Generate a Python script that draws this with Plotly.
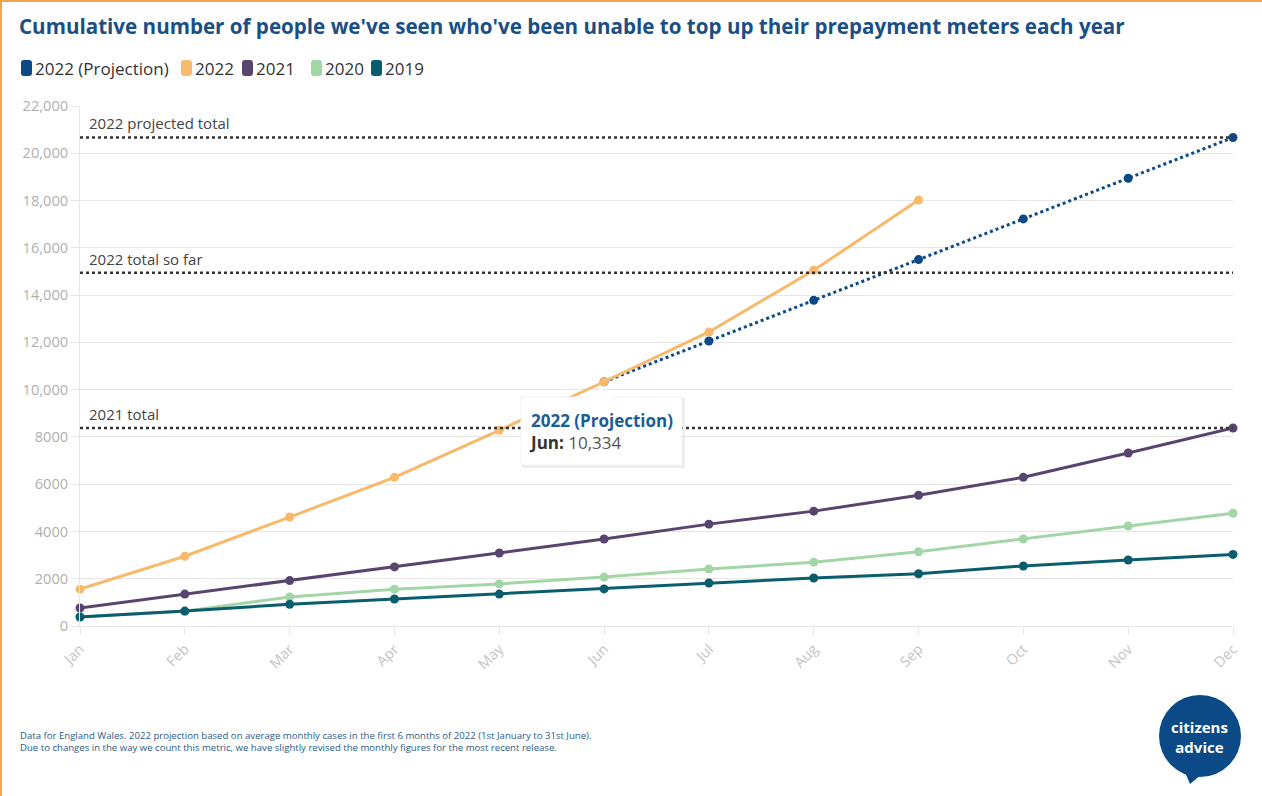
import plotly.graph_objects as go

# ---------------- data ----------------
months = ["Jan", "Feb", "Mar", "Apr", "May", "Jun", "Jul", "Aug", "Sep", "Oct", "Nov", "Dec"]
months_2022 = months[:9]
months_proj = months[5:]
y2022 = [1560, 2950, 4610, 6290, 8280, 10334, 12440, 15050, 18020]
proj2022 = [10334, 12056, 13778, 15501, 17223, 18945, 20668]
y2021 = [760, 1350, 1920, 2500, 3090, 3680, 4310, 4860, 5530, 6290, 7320, 8376]
y2020 = [390, 620, 1230, 1560, 1780, 2070, 2410, 2700, 3140, 3680, 4230, 4770]
y2019 = [380, 630, 920, 1140, 1350, 1570, 1820, 2030, 2210, 2540, 2790, 3030]
ref_values = [20668, 14950, 8376]
ref_labels = ["2022 projected total", "2022 total so far", "2021 total"]
ytick_vals = [0, 2000, 4000, 6000, 8000, 10000, 12000, 14000, 16000, 18000, 20000, 22000]
ytick_text = ["0", "2000", "4000", "6000", "8000", "10,000", "12,000", "14,000",
              "16,000", "18,000", "20,000", "22,000"]

series_names = ["2022 (Projection)", "2022", "2021", "2020", "2019"]
series_x = [months_proj, months_2022, months, months, months]
series_y = [proj2022, y2022, y2021, y2020, y2019]
series_colors = ["#0b4a87", "#f7b96b", "#574570", "#a3d6a7", "#0a5d6d"]
series_dash = ["dot", "solid", "solid", "solid", "solid"]

# ---------------- layout geometry ----------------
W, H = 1262, 796
L, R, T, B = 80, 1233, 106, 626
FONT = "Open Sans"


def px(xp):
    return (xp - L) / (R - L)


def py(yp):
    return (B - yp) / (B - T)


def rounded_rect(x0, y0, x1, y1, rad):
    pts = [
        f"M {px(x0 + rad)} {py(y0)}",
        f"L {px(x1 - rad)} {py(y0)}",
        f"Q {px(x1)} {py(y0)} {px(x1)} {py(y0 + rad)}",
        f"L {px(x1)} {py(y1 - rad)}",
        f"Q {px(x1)} {py(y1)} {px(x1 - rad)} {py(y1)}",
        f"L {px(x0 + rad)} {py(y1)}",
        f"Q {px(x0)} {py(y1)} {px(x0)} {py(y1 - rad)}",
        f"L {px(x0)} {py(y0 + rad)}",
        f"Q {px(x0)} {py(y0)} {px(x0 + rad)} {py(y0)}",
        "Z",
    ]
    return " ".join(pts)


fig = go.Figure()

for name, xs, ys, color, dash in zip(series_names, series_x, series_y, series_colors, series_dash):
    fig.add_trace(go.Scatter(
        x=xs, y=ys, mode="lines+markers", name=name, showlegend=False,
        line=dict(color=color, width=3, dash=dash),
        marker=dict(color=color, size=9),
        cliponaxis=False, hoverinfo="skip",
    ))

shapes = []
annotations = []

# legend (swatch + label), laid out left to right
legend_text_x = [36, 196, 257, 326, 386]
for name, color, tx in zip(series_names, series_colors, legend_text_x):
    shapes.append(dict(type="path", xref="paper", yref="paper",
                       path=rounded_rect(tx - 15, 60, tx - 4, 76, 3),
                       fillcolor=color, line=dict(width=0)))
    annotations.append(dict(xref="paper", yref="paper", x=px(tx), y=py(68), text=name,
                            showarrow=False, xanchor="left", yanchor="middle", borderpad=0,
                            xshift=-2, font=dict(family=FONT, size=17, color="#333333")))

# reference lines
for val, lab in zip(ref_values, ref_labels):
    shapes.append(dict(type="line", xref="paper", yref="y", x0=0, x1=1, y0=val, y1=val,
                       line=dict(color="#333333", width=2.5, dash="dot"), layer="above"))
    annotations.append(dict(xref="paper", yref="y", x=px(87), y=val, text=lab,
                            showarrow=False, xanchor="left", yanchor="bottom", yshift=2,
                            font=dict(family=FONT, size=15, color="#444444")))

# tooltip
tip_x0, tip_x1, tip_y0, tip_y1 = 521, 682, 397, 465
shapes.append(dict(type="rect", xref="paper", yref="paper",
                   x0=px(tip_x0 + 1), x1=px(tip_x1 + 3), y0=py(tip_y1 + 3), y1=py(tip_y0 + 1),
                   fillcolor="rgba(0,0,0,0.07)", line=dict(width=0), layer="above"))
shapes.append(dict(type="rect", xref="paper", yref="paper",
                   x0=px(tip_x0), x1=px(tip_x1), y0=py(tip_y1), y1=py(tip_y0),
                   fillcolor="white", line=dict(color="#f2f2f2", width=1), layer="above"))
shapes.append(dict(type="path", xref="paper", yref="paper",
                   path=f"M {px(590)} {py(398)} L {px(601)} {py(387)} L {px(612)} {py(398)} Z",
                   fillcolor="white", line=dict(width=0), layer="above"))
annotations.append(dict(
    xref="paper", yref="paper", x=px(527), y=py(431), xanchor="left", yanchor="middle",
    align="left", showarrow=False,
    text=("<b><span style='color:#1c5c97'>2022 (Projection)</span></b><br>"
          "<b><span style='color:#333333'>Jun:</span></b> "
          "<span style='color:#555555'>10,334</span>"),
    font=dict(family=FONT, size=17, color="#333333"),
))

# footnote
annotations.append(dict(
    xref="paper", yref="paper", x=px(18), y=py(741), xanchor="left", yanchor="middle",
    align="left", showarrow=False,
    text=("Data for England Wales. 2022 projection based on average monthly cases in the first 6 months "
          "of 2022 (1st January to 31st June).<br>Due to changes in the way we count this metric, we have "
          "slightly revised the monthly figures for the most recent release."),
    font=dict(family=FONT, size=9.6, color="#2d5b88"),
))

# logo
cx, cy, r = 1200, 736, 41
shapes.append(dict(type="path", xref="paper", yref="paper",
                   path=f"M {px(1184)} {py(770)} L {px(1190)} {py(784)} L {px(1202)} {py(774)} Z",
                   fillcolor="#0b4a87", line=dict(width=0)))
shapes.append(dict(type="circle", xref="paper", yref="paper",
                   x0=px(cx - r), x1=px(cx + r), y0=py(cy + r), y1=py(cy - r),
                   fillcolor="#0b4a87", line=dict(width=0)))
annotations.append(dict(xref="paper", yref="paper", x=px(cx - 1), y=py(cy + 1),
                        text="<b>citizens<br>advice</b>",
                        showarrow=False, xanchor="center", yanchor="middle",
                        font=dict(family=FONT, size=15, color="white")))

# orange frame (left & top)
shapes.append(dict(type="line", xref="paper", yref="paper", x0=px(1), x1=px(1), y0=py(0), y1=py(H),
                   line=dict(color="#f4a44e", width=2)))
shapes.append(dict(type="line", xref="paper", yref="paper", x0=px(0), x1=px(W), y0=py(1), y1=py(1),
                   line=dict(color="#f4a44e", width=2)))

fig.update_layout(
    width=W, height=H,
    margin=dict(l=L, r=W - R, t=T, b=H - B),
    paper_bgcolor="white", plot_bgcolor="white",
    font=dict(family=FONT, color="#333333"),
    showlegend=False,
    title=dict(text="<b>Cumulative number of people we've seen who've been unable to top up their prepayment meters each year</b>",
               x=19 / W, xref="container", xanchor="left", y=1 - 27 / H, yref="container", yanchor="middle",
               font=dict(family=FONT, size=20.6, color="#1a4f86")),
    xaxis=dict(type="category", categoryorder="array", categoryarray=months, range=[0, 11],
               showgrid=False, showline=True, linecolor="#e6e6e6", linewidth=1,
               ticks="outside", ticklen=8, tickcolor="#e6e6e6", tickangle=-45,
               tickfont=dict(family=FONT, size=14.5, color="#c4c4c4"), zeroline=False, fixedrange=True),
    yaxis=dict(range=[0, 22000], tickvals=ytick_vals, ticktext=ytick_text,
               showgrid=True, gridcolor="#e6e6e6", gridwidth=1,
               showline=True, linecolor="#e6e6e6", linewidth=1,
               ticks="outside", ticklen=8, tickcolor="#e6e6e6",
               tickfont=dict(family=FONT, size=14.6, color="#b0b0b0"), zeroline=False, fixedrange=True),
    shapes=shapes, annotations=annotations,
    hovermode=False,
)

fig.write_html("out.html")
